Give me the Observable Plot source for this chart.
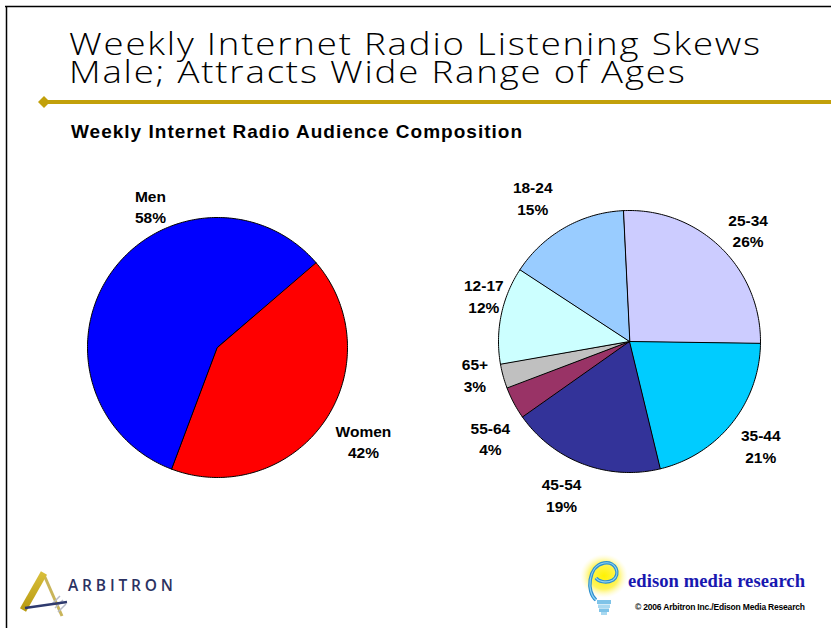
<!DOCTYPE html>
<html>
<head>
<meta charset="utf-8">
<script src="https://cdn.jsdelivr.net/npm/d3@7"></script>
<script src="https://cdn.jsdelivr.net/npm/@observablehq/plot@0.6"></script>
<style>
  html, body { margin: 0; padding: 0; background: #fff; overflow: hidden; }
  #slide { position: relative; width: 831px; height: 628px; background: #fff; overflow: hidden; }
  #chart, #deco { position: absolute; left: 0; top: 0; }
  #deco { pointer-events: none; }
  #title { position: absolute; left: 69px; top: 29px; font-family: "Open Sans", "DejaVu Sans", sans-serif;
    font-weight: 300; font-size: 30.5px; line-height: 28px; color: #000; white-space: pre;
    transform-origin: 0 0; }
</style>
</head>
<body>
<div id="slide">
  <div id="chart"></div>
  <svg id="deco" width="831" height="628" viewBox="0 0 831 628">
    <defs>
      <radialGradient id="glow" cx="50%" cy="50%" r="50%">
        <stop offset="0%" stop-color="#FFF200"/>
        <stop offset="60%" stop-color="#FFF45C"/>
        <stop offset="100%" stop-color="#FFFBD0" stop-opacity="0"/>
      </radialGradient>
      <linearGradient id="gold" x1="0" y1="1" x2="0" y2="0">
        <stop offset="0%" stop-color="#B89A10"/>
        <stop offset="100%" stop-color="#D8BE3A"/>
      </linearGradient>
    </defs>
    <!-- slide frame -->
    <line x1="5" y1="6.5" x2="831" y2="6.5" stroke="#000" stroke-width="1.5"/>
    <line x1="6.5" y1="6" x2="6.5" y2="628" stroke="#000" stroke-width="1.5"/>
    <!-- gold rule with diamond -->
    <line x1="44" y1="102" x2="831" y2="102" stroke="#C2A00A" stroke-width="4"/>
    <polygon points="38,102 44,96 50,102 44,108" fill="#C2A00A"/>
    <!-- subtitle -->
    <text x="71" y="138" font-family="Liberation Sans, Arial, sans-serif" font-weight="bold" font-size="19" textLength="451" lengthAdjust="spacing" fill="#000">Weekly Internet Radio Audience Composition</text>
    <!-- Arbitron logo -->
    <line x1="62" y1="616" x2="44" y2="575" stroke="#C9B55A" stroke-width="3"/>
    <path d="M52,604 L60,596 M55,608 L63,600 M58,612 L66,604" stroke="#B8BCC8" stroke-width="1.5"/>
    <line x1="23" y1="610" x2="44" y2="573" stroke="url(#gold)" stroke-width="7" stroke-linecap="butt"/>
    <line x1="25" y1="608" x2="67" y2="602" stroke="#2E3A6E" stroke-width="2.5"/>
    <text x="68" y="591" font-family="Open Sans, Liberation Sans, sans-serif" font-weight="600" font-size="15.5" textLength="105" lengthAdjust="spacing" fill="#2B3262">ARBITRON</text>
    <!-- Edison logo -->
    <ellipse cx="604" cy="576" rx="24" ry="22" fill="url(#glow)"/>
    <path d="M596,600 C586,592 588,566 604,563 C616,561 621,574 613,580 C606,584 598,581 596,578" fill="none" stroke="#2D8FD0" stroke-width="3.5"/>
    <path d="M596,600 C586,592 588,566 604,563 C616,561 621,574 613,580 C606,584 598,581 596,578" fill="none" stroke="#8FD3F2" stroke-width="1.2"/>
    <rect x="597" y="600" width="14" height="4" fill="#7EC3E8"/>
    <rect x="598" y="604.5" width="12" height="3.5" fill="#A8D8F0"/>
    <rect x="599" y="608.5" width="10" height="3.5" fill="#7EC3E8"/>
    <rect x="601" y="612" width="6" height="3" fill="#A8D8F0"/>
    <text x="628" y="587" font-family="Liberation Serif, Times New Roman, serif" font-weight="bold" font-size="18.6" textLength="177" lengthAdjust="spacing" fill="#1818B0">edison media research</text>
    <text x="635" y="610" font-family="Liberation Sans, Arial, sans-serif" font-weight="bold" font-size="8.5" textLength="170" lengthAdjust="spacing" fill="#000">© 2006 Arbitron Inc./Edison Media Research</text>
  </svg>
  <div id="title"></div>
</div>
<script>
// ---------------- data ----------------
const titleLines = ["Weekly Internet Radio Listening Skews", "Male; Attracts Wide Range of Ages"];

const genders = ["Men", "Women"];
const genderPct = [58, 42];

const ageGroups = ["25-34", "35-44", "45-54", "55-64", "65+", "12-17", "18-24"];
const agePct = [26, 21, 19, 4, 3, 12, 15];

// ---------------- styles / layout ----------------
const genderColors = ["#0000FF", "#FF0000"];
const ageColors = ["#CCCCFF", "#00CCFF", "#333399", "#993366", "#C0C0C0", "#CCFFFF", "#99CCFF"];

const leftPie = {cx: 217, cy: 347, r: 130, startDeg: 200.5,
  labelShift: [29.8, -2.4], labelDist: [157, 173]};
const rightPie = {cx: 629, cy: 341, r: 131, startDeg: -2.8,
  labelShift: [2.7, -0.4, 3.4, -6.6, 3.4, 6.2, -4], labelDist: [163, 167, 167, 169, 158, 153, 174]};

// title: one text block, light sans widened horizontally, fitted to the first line's width
(function fitTitle() {
  const s = 1.2, target = 693;
  const title = document.getElementById("title");
  title.textContent = titleLines.join("\n");
  title.style.transform = `scaleX(${s})`;
  const w = title.getBoundingClientRect().width / s;
  const n = titleLines[0].length;
  title.style.letterSpacing = ((target / s - w) / n) + "px";
})();

const rad = d => d * Math.PI / 180;

function buildPie(names, values, colors, L, prefix) {
  const arcs = d3.pie().sort(null)
    .startAngle(rad(L.startDeg))
    .endAngle(rad(L.startDeg) + 2 * Math.PI)(values);
  const pts = [];
  const labels = [];
  arcs.forEach((a, i) => {
    const key = prefix + names[i];
    pts.push({key, x: L.cx, y: L.cy, color: colors[i]});
    const n = Math.max(2, Math.ceil((a.endAngle - a.startAngle) * 180 / Math.PI));
    for (let k = 0; k <= n; k++) {
      const t = a.startAngle + (a.endAngle - a.startAngle) * k / n;
      pts.push({key, x: L.cx + L.r * Math.sin(t), y: L.cy - L.r * Math.cos(t), color: colors[i]});
    }
    const mid = (a.startAngle + a.endAngle) / 2 + rad(L.labelShift[i]);
    labels.push({
      text: `${names[i]}\n${values[i]}%`,
      x: L.cx + L.labelDist[i] * Math.sin(mid),
      y: L.cy - L.labelDist[i] * Math.cos(mid)
    });
  });
  return {pts, labels};
}

const g = buildPie(genders, genderPct, genderColors, leftPie, "g-");
const a = buildPie(ageGroups, agePct, ageColors, rightPie, "a-");

const labelStyle = {
  x: "x", y: "y", text: "text",
  fontSize: 15.5, fontWeight: "bold",
  fontFamily: "Liberation Sans, Arial, Helvetica, sans-serif",
  fill: "#000", lineHeight: 1.4, textAnchor: "middle", lineAnchor: "middle"
};

const plot = Plot.plot({
  width: 831,
  height: 628,
  margin: 0,
  style: {background: "none", overflow: "visible"},
  x: {domain: [0, 831], range: [0, 831], axis: null},
  y: {domain: [0, 628], range: [0, 628], axis: null},
  color: {type: "identity"},
  marks: [
    Plot.line(g.pts, {x: "x", y: "y", z: "key", fill: "color", stroke: "#000", strokeWidth: 1, strokeLinejoin: "round", curve: "linear-closed"}),
    Plot.line(a.pts, {x: "x", y: "y", z: "key", fill: "color", stroke: "#000", strokeWidth: 1, strokeLinejoin: "round", curve: "linear-closed"}),
    Plot.text(g.labels, labelStyle),
    Plot.text(a.labels, labelStyle)
  ]
});
document.getElementById("chart").appendChild(plot);
</script>
</body>
</html>
